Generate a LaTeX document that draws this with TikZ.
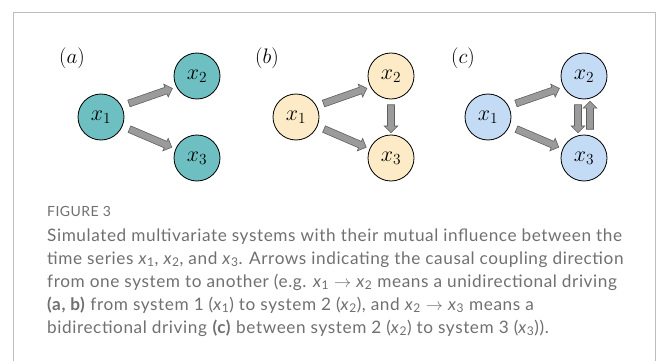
\documentclass[tikz,border=0pt]{standalone}
\usepackage{fix-cm}
\usepackage{fontspec}
\setmainfont{Lato}[LetterSpace=3.4]
\usepackage{xcolor}
\usetikzlibrary{shapes.arrows,calc}
\definecolor{tealfill}{HTML}{6DBFC1}
\definecolor{sandfill}{HTML}{FCEBC6}
\definecolor{skyfill}{HTML}{C4DBF6}
\definecolor{arrowfill}{HTML}{9B9B9B}
\definecolor{arrowline}{HTML}{5F5F5F}
\definecolor{capgray}{HTML}{707070}
\definecolor{framegray}{HTML}{BDBDBD}
\tikzset{
  sys/.style={circle, draw=black, line width=0.8pt, minimum size=46pt, inner sep=0pt,
    font=\fontsize{22}{24}\selectfont},
  flow/.style={single arrow, draw=arrowline, fill=arrowfill, line width=0.6pt,
    minimum height=46pt, inner xsep=0pt, inner ysep=3.2pt, single arrow head extend=3.3pt},
  shortflow/.style={flow, minimum height=28pt},
  panel/.style={font=\fontsize{21}{24}\selectfont},
  capline/.style={anchor=base west, text=capgray, font=\fontsize{17.2}{20}\selectfont, inner sep=0pt},
}

\begin{document}
\begin{tikzpicture}[x=1pt, y=-1pt]
  \useasboundingbox (0,0) rectangle (656,361);
  \draw[framegray, line width=0.8pt] (13,365) -- (13,12) -- (655,12) -- (655,365);
  % panel a
  \node[panel] (la) at (72,58) {$(a)$};
  \node[sys, fill=tealfill] (a1) at (101,117) {$x_1$};
  \node[sys, fill=tealfill] (a2) at (197,76) {$x_2$};
  \node[sys, fill=tealfill] (a3) at (197,158) {$x_3$};
  \path (a1) -- node[flow, sloped, rotate=-4] {} (a2);
  \path (a1) -- node[flow, sloped] {} (a3);
  % panel b
  \node[panel] (lb) at (267,58) {$(b)$};
  \node[sys, fill=sandfill] (b1) at (296,117) {$x_1$};
  \node[sys, fill=sandfill] (b2) at (391,76) {$x_2$};
  \node[sys, fill=sandfill] (b3) at (391,158) {$x_3$};
  \path (b1) -- node[flow, sloped, rotate=-4] {} (b2);
  \path (b1) -- node[flow, sloped] {} (b3);
  \path (b2) -- node[shortflow, sloped] {} (b3);
  % panel c
  \node[panel] (lc) at (463,58) {$(c)$};
  \node[sys, fill=skyfill] (c1) at (488,117) {$x_1$};
  \node[sys, fill=skyfill] (c2) at (584,76) {$x_2$};
  \node[sys, fill=skyfill] (c3) at (584,158) {$x_3$};
  \path (c1) -- node[flow, sloped, rotate=-4] {} (c2);
  \path (c1) -- node[flow, sloped] {} (c3);
  \path ([xshift=-6pt]c2.center) -- node[shortflow, sloped] {} ([xshift=-6pt]c3.center);
  \path ([xshift=6pt]c3.center) -- node[shortflow, sloped] {} ([xshift=6pt]c2.center);
  % caption
  \node[capline, font=\fontsize{14}{16}\selectfont] (fig) at (47,216) {FIGURE 3};
  \node[capline] (cap1) at (47,241) {Simulated multivariate systems with their mutual influence between the};
  \node[capline] (cap2) at (47,264) {time series \textit{x}\textsubscript{1}, \textit{x}\textsubscript{2}, and \textit{x}\textsubscript{3}. Arrows indicating the causal coupling direction};
  \node[capline] (cap3) at (47,287) {from one system to another (e.g. \textit{x}\textsubscript{1} $\rightarrow$ \textit{x}\textsubscript{2} means a unidirectional driving};
  \node[capline] (cap4) at (47,310) {\textbf{(a, b)} from system 1 (\textit{x}\textsubscript{1}) to system 2 (\textit{x}\textsubscript{2}), and \textit{x}\textsubscript{2} $\rightarrow$ \textit{x}\textsubscript{3} means a};
  \node[capline] (cap5) at (47,333) {bidirectional driving \textbf{(c)} between system 2 (\textit{x}\textsubscript{2}) to system 3 (\textit{x}\textsubscript{3})).};
\end{tikzpicture}
\end{document}
